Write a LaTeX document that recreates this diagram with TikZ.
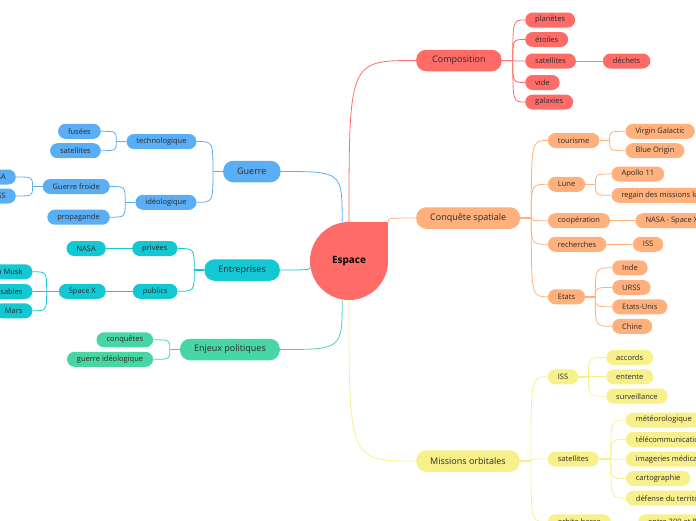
\documentclass[tikz,border=0pt]{standalone}
\usepackage{fontspec}
\setmainfont{Open Sans}
\usetikzlibrary{positioning}

\definecolor{cComp}{HTML}{FF6B67}
\definecolor{cConq}{HTML}{FFB07C}
\definecolor{cMiss}{HTML}{F8F08A}
\definecolor{cGuer}{HTML}{5AAEF5}
\definecolor{cEntr}{HTML}{14C8D3}
\definecolor{cEnj}{HTML}{48D6A4}
\definecolor{txt}{HTML}{2A2A2A}

\tikzset{
  topic/.style={rounded corners=10pt, minimum height=21.5pt, inner xsep=14pt, inner ysep=0pt, text=txt, font=\fontsize{9}{11}\selectfont},
  sub/.style={rounded corners=7.5pt, minimum height=15pt, inner xsep=10pt, inner ysep=0pt, text=txt, font=\fontsize{7.5}{8.5}\selectfont},
  link/.style={line width=0.8pt},
  stem/.style={line width=1.6pt},
}

\begin{document}
\begin{tikzpicture}[x=1pt,y=-1pt]
  \useasboundingbox (0,0) rectangle (696,520);
  \clip (0,0) rectangle (696,520);

  % centre
  \fill[cComp] (349,261) circle (39);
  \fill[cComp] (349,222) rectangle (388,261);
  \node[circle, minimum size=78pt, inner sep=0pt, font=\fontsize{10}{12}\selectfont\bfseries] (root) at (349,261) {Espace};

  % branches
  \node[topic, fill=cComp, anchor=west, inner xsep=16pt] (comp) at (416,60.5) {Composition};
  \node[topic, fill=cConq, anchor=west] (conq) at (416,218) {Conquête spatiale};
  \node[topic, fill=cMiss, anchor=west] (miss) at (416,461) {Missions orbitales};
  \node[topic, fill=cGuer, anchor=east] (guer) at (280.7,171.5) {Guerre};
  \node[topic, fill=cEntr, anchor=east] (entr) at (280,270) {Entreprises};
  \node[topic, fill=cEnj, anchor=east] (enj) at (280,349.5) {Enjeux politiques};

  \draw[link, cComp] (root.north) .. controls (root.north |- comp.west) .. (comp.west);
  \coordinate (corner) at (root.north -| root.east);
  \draw[link, cConq] (corner) .. controls (corner |- conq.west) .. (conq.west);
  \draw[link, cMiss] (root.south) .. controls (root.south |- miss.west) .. (miss.west);
  \draw[link, cGuer] (root.100) .. controls (root.100 |- guer.east) .. (guer.east);
  \draw[link, cEntr] (root.188) .. controls (root.188 |- entr.east) .. (entr.east);
  \draw[link, cEnj] (root.260) .. controls (root.260 |- enj.east) .. (enj.east);

  % Composition
  \foreach \n/\y/\t in {1/20/planètes, 2/39.5/étoiles, 3/61/satellites, 4/82.5/vide, 5/102/galaxies}
    \node[sub, fill=cComp, anchor=west] (comp\n) at (525,\y) {\t};
  \node[sub, fill=cComp, anchor=west] (deche) at (602.7,61) {déchets};
  \draw[stem, cComp] (comp.east) -- ++(11,0) coordinate (comp-s);
  \foreach \n in {1,...,5}
    \draw[link, cComp] (comp-s) .. controls (comp-s |- comp\n.west) .. (comp\n.west);
  \draw[link, cComp!80] (comp3.east) -- (deche.west);

  % Conquête spatiale
  \node[sub, fill=cConq, anchor=west] (tour) at (547.7,140.5) {tourisme};
  \node[sub, fill=cConq, anchor=west] (lune) at (547.7,184.3) {Lune};
  \node[sub, fill=cConq, anchor=west] (coop) at (547.7,220.7) {coopération};
  \node[sub, fill=cConq, anchor=west] (rech) at (547.7,244.3) {recherches};
  \node[sub, fill=cConq, anchor=west] (etat) at (547.7,296.8) {Etats};
  \draw[stem, cConq] (conq.east) -- ++(11,0) coordinate (conq-s);
  \foreach \c in {tour,lune,coop,rech,etat}
    \draw[link, cConq] (conq-s) .. controls (conq-s |- \c.west) .. (\c.west);

  \node[sub, fill=cConq, anchor=west] (virg) at (625.3,131.3) {Virgin Galactic};
  \node[sub, fill=cConq, anchor=west] (blue) at (625.3,150.7) {Blue Origin};
  \draw[stem, cConq] (tour.east) -- ++(10,0) coordinate (tour-s);
  \foreach \c in {virg,blue}
    \draw[link, cConq] (tour-s) .. controls (tour-s |- \c.west) .. (\c.west);

  \node[sub, fill=cConq, anchor=west] (apol) at (611.3,174) {Apollo 11};
  \node[sub, fill=cConq, anchor=west] (rega) at (611.3,195.3) {regain des missions lunaires};
  \draw[stem, cConq] (lune.east) -- ++(10,0) coordinate (lune-s);
  \foreach \c in {apol,rega}
    \draw[link, cConq] (lune-s) .. controls (lune-s |- \c.west) .. (\c.west);

  \node[sub, fill=cConq, anchor=west] (nasx) at (635.3,220.7) {NASA - Space X};
  \draw[link, cConq] (coop.east) -- (nasx.west);
  \node[sub, fill=cConq, anchor=west] (iss1) at (632.7,244.3) {ISS};
  \draw[link, cConq] (rech.east) -- (iss1.west);

  \foreach \n/\y/\t in {1/267.8/Inde, 2/287.5/URSS, 3/306.8/Etats-Unis, 4/326.3/Chine}
    \node[sub, fill=cConq, anchor=west] (etat\n) at (612,\y) {\t};
  \draw[stem, cConq] (etat.east) -- ++(10,0) coordinate (etat-s);
  \foreach \n in {1,...,4}
    \draw[link, cConq] (etat-s) .. controls (etat-s |- etat\n.west) .. (etat\n.west);

  % Missions orbitales
  \node[sub, fill=cMiss, anchor=west] (iss2) at (547.7,376.8) {ISS};
  \node[sub, fill=cMiss, anchor=west] (sate) at (547.7,459) {satellites};
  \node[sub, fill=cMiss, anchor=west] (orbi) at (547.7,521.8) {orbite basse};
  \draw[stem, cMiss] (miss.east) -- ++(11,0) coordinate (miss-s);
  \foreach \c in {iss2,sate,orbi}
    \draw[link, cMiss] (miss-s) .. controls (miss-s |- \c.west) .. (\c.west);

  \foreach \n/\y/\t in {1/357.5/accords, 2/376.8/entente, 3/396.2/surveillance}
    \node[sub, fill=cMiss, anchor=west] (iss2\n) at (606,\y) {\t};
  \draw[stem, cMiss] (iss2.east) -- ++(10,0) coordinate (iss2-s);
  \foreach \n in {1,...,3}
    \draw[link, cMiss] (iss2-s) .. controls (iss2-s |- iss2\n.west) .. (iss2\n.west);

  \foreach \n/\y/\t in {1/420/météorologique, 2/439.5/télécommunications, 3/459.2/imageries médicales, 4/478.5/cartographie, 5/498.2/défense du territoire}
    \node[sub, fill=cMiss, anchor=west] (sate\n) at (625.7,\y) {\t};
  \draw[stem, cMiss] (sate.east) -- ++(12,0) coordinate (sate-s);
  \foreach \n in {1,...,5}
    \draw[link, cMiss] (sate-s) .. controls (sate-s |- sate\n.west) .. (sate\n.west);

  \node[sub, fill=cMiss, anchor=west] (alti) at (638,521.8) {entre 300 et 800 km};
  \draw[link, cMiss] (orbi.east) -- (alti.west);

  % Guerre
  \node[sub, fill=cGuer, anchor=east] (tech) at (196.7,141.5) {technologique};
  \node[sub, fill=cGuer, anchor=east] (ideo) at (196.7,202.3) {idéologique};
  \draw[stem, cGuer] (guer.west) -- ++(-10,0) coordinate (guer-s);
  \foreach \c in {tech,ideo}
    \draw[link, cGuer] (guer-s) .. controls (guer-s |- \c.east) .. (\c.east);

  \node[sub, fill=cGuer, anchor=east] (fuse) at (101,131.3) {fusées};
  \node[sub, fill=cGuer, anchor=east] (sat2) at (101,150.7) {satellites};
  \draw[stem, cGuer] (tech.west) -- ++(-10,0) coordinate (tech-s);
  \foreach \c in {fuse,sat2}
    \draw[link, cGuer] (tech-s) .. controls (tech-s |- \c.east) .. (\c.east);

  \node[sub, fill=cGuer, anchor=east] (froi) at (110,186.5) {Guerre froide};
  \node[sub, fill=cGuer, anchor=east] (prop) at (110,217.2) {propagande};
  \draw[stem, cGuer] (ideo.west) -- ++(-10,0) coordinate (ideo-s);
  \foreach \c in {froi,prop}
    \draw[link, cGuer] (ideo-s) .. controls (ideo-s |- \c.east) .. (\c.east);

  \node[sub, fill=cGuer, anchor=east] (usa) at (16,177) {USA};
  \node[sub, fill=cGuer, anchor=east] (urss) at (16,196) {URSS};
  \draw[stem, cGuer] (froi.west) -- ++(-10,0) coordinate (froi-s);
  \foreach \c in {usa,urss}
    \draw[link, cGuer] (froi-s) .. controls (froi-s |- \c.east) .. (\c.east);

  % Entreprises
  \node[sub, fill=cEntr, anchor=east] (priv) at (177.7,248.5) {privées};
  \node[sub, fill=cEntr, anchor=east] (publ) at (177.7,291.3) {publics};
  \draw[stem, cEntr] (entr.west) -- ++(-10,0) coordinate (entr-s);
  \foreach \c in {priv,publ}
    \draw[link, cEntr] (entr-s) .. controls (entr-s |- \c.east) .. (\c.east);

  \node[sub, fill=cEntr, anchor=east] (nasa) at (106,248.5) {NASA};
  \node[sub, fill=cEntr, anchor=east] (spax) at (106,291.3) {Space X};
  \draw[link, cEntr] (priv.west) -- (nasa.east);
  \draw[link, cEntr] (publ.west) -- (spax.east);

  \foreach \n/\y/\t in {1/271.8/Elon Musk, 2/291.5/fusées réutilisables, 3/310.8/Mars}
    \node[sub, fill=cEntr, anchor=east] (spax\n) at (32.7,\y) {\t};
  \draw[stem, cEntr] (spax.west) -- ++(-12,0) coordinate (spax-s);
  \foreach \n in {1,...,3}
    \draw[link, cEntr] (spax-s) .. controls (spax-s |- spax\n.east) .. (spax\n.east);

  % Enjeux politiques
  \node[sub, fill=cEnj, anchor=east] (conqu) at (153.3,339.8) {conquêtes};
  \node[sub, fill=cEnj, anchor=east] (gide) at (153.3,359.3) {guerre idéologique};
  \draw[stem, cEnj] (enj.west) -- ++(-10,0) coordinate (enj-s);
  \foreach \c in {conqu,gide}
    \draw[link, cEnj] (enj-s) .. controls (enj-s |- \c.east) .. (\c.east);
\end{tikzpicture}
\end{document}
